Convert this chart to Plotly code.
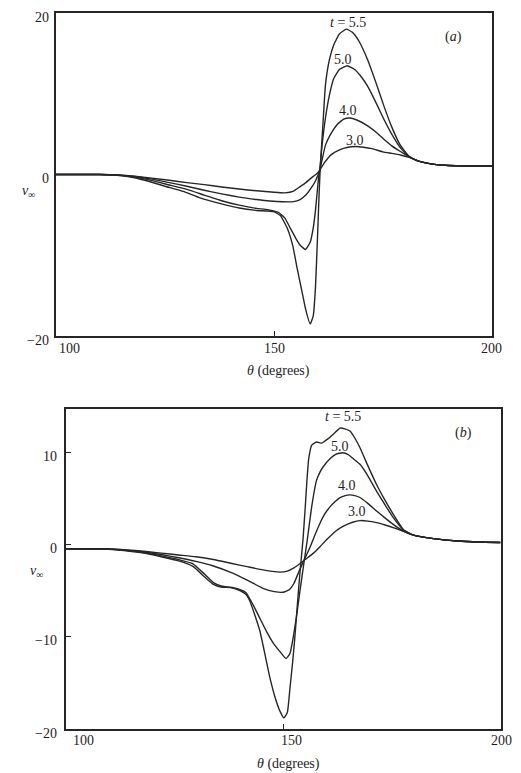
import plotly.graph_objects as go

# ---------------- data: panel (a) ----------------
A30_x = [100, 110, 114, 118, 122, 126, 130, 134, 138, 142, 146, 150, 152.5, 154.5, 156, 157.3, 158.5, 159.8, 160.5, 161.5,
         163, 165, 167, 168.7, 170.5, 172.5, 175, 177, 179, 181, 183, 186, 190, 195, 200]
A30_y = [0, 0, -0.05, -0.2, -0.45, -0.72, -1.0, -1.25, -1.55, -1.8, -2.02, -2.2, -2.27, -2.05, -1.5, -1.0, -0.45, 0.1, 0.55, 1.4,
         2.4, 3.05, 3.38, 3.46, 3.38, 3.2, 2.8, 2.62, 2.42, 2.12, 1.68, 1.32, 1.12, 1.06, 1.05]

A40_x = [100, 110, 114, 118, 122, 126, 130, 134, 138, 142, 146, 149, 152, 154.5, 156, 157.3, 158.5, 159.5, 160.5, 161.8,
         163, 164.5, 166, 167.4, 169, 171.4, 173.5, 175.2, 177, 179, 181, 183, 186, 190, 195, 200]
A40_y = [0, 0, -0.07, -0.25, -0.58, -1.0, -1.45, -1.95, -2.4, -2.8, -3.1, -3.28, -3.38, -3.36, -3.1, -2.55, -1.7, -0.8, 0.55, 3.64,
         5.0, 6.2, 6.85, 7.0, 6.75, 6.05, 5.2, 4.36, 3.55, 2.85, 2.2, 1.68, 1.32, 1.12, 1.06, 1.05]

A50_x = [100, 110, 114, 118, 122, 126, 130, 134, 138, 142, 146, 148.5, 151, 152.5, 153.7, 155, 156, 157.2, 158.3, 159,
         159.5, 160.2, 160.5, 161, 161.8, 162.7, 163.7, 165, 166.8, 168.5, 170, 171.4, 173.3, 175.2, 177, 179, 181, 183, 186, 190,
         195, 200]
A50_y = [0, 0, -0.08, -0.32, -0.75, -1.3, -1.85, -2.55, -3.25, -3.8, -4.2, -4.35, -4.7, -5.4, -6.6, -7.9, -8.75, -9.28, -8.4, -6.6,
         -4.5, -0.5, 0.55, 3.5, 7.0, 9.8, 11.9, 13.0, 13.46, 13.0, 12.1, 11.0, 9.0, 6.85, 5.0, 3.3, 2.2, 1.68, 1.32, 1.12,
         1.06, 1.05]

A55_x = [100, 110, 114, 118, 121.6, 125, 129.2, 133, 138.4, 142, 146, 149.9, 151.5, 153, 154.3, 155.3, 156.3, 157.3, 158.3, 159,
         159.5, 160, 160.3, 160.6, 161.2, 161.8, 162.7, 163.7, 165, 166.6, 168, 169.5, 171.4, 173.3, 175.2, 177, 179, 181, 183, 186,
         190, 195, 200]
A55_y = [0, 0, -0.1, -0.4, -0.9, -1.45, -2.1, -2.9, -3.7, -4.15, -4.45, -4.6, -5.1, -6.6, -8.8, -11.6, -14.2, -16.8, -18.5, -17.5,
         -14.1, -7.5, -3.0, 0.76, 6.0, 11.1, 14.2, 16.05, 17.4, 18.0, 17.6, 16.5, 14.3, 11.5, 8.5, 5.9, 3.6, 2.25, 1.68, 1.32,
         1.12, 1.06, 1.05]

# ---------------- data: panel (b) ----------------
B30_x = [100, 110, 114, 118, 122, 126, 130, 134, 138, 142, 146, 149.3, 151, 152.5, 154, 155.5, 157, 158.5, 160, 162,
         164, 166, 167.7, 169.5, 171.5, 173.5, 175.5, 177.7, 180, 184.6, 190, 195, 200]
B30_y = [-0.43, -0.45, -0.55, -0.7, -0.9, -1.1, -1.3, -1.6, -2.0, -2.4, -2.78, -2.96, -2.85, -2.5, -2.0, -1.45, -0.9, -0.2, 0.54, 1.45,
         2.05, 2.45, 2.63, 2.58, 2.41, 2.15, 1.85, 1.46, 1.05, 0.67, 0.42, 0.3, 0.26]

B40_x = [100, 110, 114, 118, 122, 126, 130, 134, 138, 142, 145.4, 148, 150, 151.5, 152.5, 153.9, 155, 156.2, 157.2, 158.5,
         159.6, 160.8, 162, 163.1, 164.3, 165.4, 166.5, 167.7, 169.5, 171.5, 173.5, 175.4, 177.7, 180, 184.6, 190, 195, 200]
B40_y = [-0.43, -0.45, -0.58, -0.78, -1.05, -1.4, -1.8, -2.3, -3.0, -3.9, -4.72, -5.08, -5.15, -4.85, -4.2, -2.64, -1.5, -0.3, 0.9, 2.35,
         3.35, 4.12, 4.7, 5.12, 5.35, 5.42, 5.35, 5.14, 4.5, 3.67, 2.9, 2.2, 1.5, 1.05, 0.67, 0.42, 0.3, 0.26]

B50_x = [100, 110, 114, 118, 122, 126, 129.3, 132, 134, 136, 138, 140, 141.5, 143.1, 144.6, 146.2, 147.8, 149.3, 150.7, 151.6,
         152.3, 153.1, 153.9, 154.8, 155.6, 156.6, 157.7, 158.5, 159.2, 160.8, 162.2, 163.7, 165, 166.3, 167.7, 169.5, 171.5, 173.5,
         175.4, 177.7, 180, 184.6, 190, 195, 200]
B50_y = [-0.43, -0.47, -0.62, -0.85, -1.2, -1.6, -2.06, -3.2, -4.1, -4.5, -4.6, -4.85, -5.2, -6.5, -7.9, -9.4, -10.7, -11.6, -12.35, -11.8,
         -10.18, -7.8, -5.0, -2.0, 0.6, 4.16, 7.0, 7.9, 8.45, 9.35, 9.85, 10.0, 9.8, 9.3, 8.74, 7.5, 5.83, 4.3,
         2.92, 1.6, 1.05, 0.67, 0.42, 0.3, 0.26]

B55_x = [100, 110, 114, 118, 122, 126, 129.3, 132, 134, 136, 138, 140.1, 141.5, 142.4, 143.5, 144.7, 145.9, 147.0, 148.2, 149.3,
         150.2, 151.0, 151.6, 152.2, 152.7, 153.3, 153.9, 154.6, 155.1, 155.5, 155.9, 156.6, 157.7, 158.9, 159.6, 160.8, 162, 163.1,
         164.2, 165.4, 166.5, 167.7, 169.5, 171.5, 173.5, 175.4, 177.7, 180, 184.6, 190, 195, 200]
B55_y = [-0.43, -0.48, -0.65, -0.9, -1.3, -1.75, -2.35, -3.5, -4.3, -4.6, -4.65, -4.97, -5.4, -6.13, -7.6, -9.39, -12.0, -14.45, -16.6, -18.06,
         -18.79, -18.2, -15.57, -12.8, -10.18, -6.5, -3.0, 0.59, 4.0, 7.0, 9.3, 10.82, 11.16, 11.04, 11.26, 11.68, 12.2, 12.67,
         12.6, 12.36, 11.6, 10.54, 8.6, 6.55, 4.8, 3.28, 1.64, 1.05, 0.67, 0.42, 0.3, 0.26]

# curve labels: (text, theta, value)
A_LABELS = [("<i>t</i> = 5.5", 167.0, 18.8), ("5.0", 165.8, 14.3), ("4.0", 167.0, 7.9), ("3.0", 168.6, 4.15)]
B_LABELS = [("<i>t</i> = 5.5", 163.8, 13.9), ("5.0", 163.1, 10.7), ("4.0", 164.7, 6.4), ("3.0", 167.0, 3.6)]

A_XTICKS = [100, 150, 200]
A_YTICKS = [-20, 0, 20]
A_YTICK_TEXT = ["\u221220", "0", "20"]
B_XTICKS = [100, 150, 200]
B_YTICKS = [-20, -10, 0, 10]
B_YTICK_TEXT = ["\u221220", "\u221210", "0", "10"]

W, H = 521, 773
INK = "#262626"
TXT = "#1e1e1e"
FONT = "Liberation Serif, Times New Roman, serif"
FS = 14

fig = go.Figure()
for xs, ys in [(A30_x, A30_y), (A40_x, A40_y), (A50_x, A50_y), (A55_x, A55_y)]:
    fig.add_trace(go.Scatter(x=xs, y=ys, mode="lines", xaxis="x", yaxis="y",
                             line=dict(color=INK, width=1.4, shape="spline", smoothing=0.4),
                             showlegend=False, hoverinfo="skip"))
for xs, ys in [(B30_x, B30_y), (B40_x, B40_y), (B50_x, B50_y), (B55_x, B55_y)]:
    fig.add_trace(go.Scatter(x=xs, y=ys, mode="lines", xaxis="x2", yaxis="y2",
                             line=dict(color=INK, width=1.4, shape="spline", smoothing=0.4),
                             showlegend=False, hoverinfo="skip"))

axis_common = dict(showline=True, mirror=True, linecolor=INK, linewidth=1.5, showgrid=False,
                   zeroline=False, showticklabels=False, tickcolor=INK, tickwidth=1.2)

fig.update_layout(
    width=W, height=H, margin=dict(l=0, r=0, t=0, b=0),
    paper_bgcolor="white", plot_bgcolor="white",
    font=dict(family=FONT, size=FS, color=TXT),
    xaxis=dict(domain=[56 / W, 492 / W], range=[100, 200], anchor="y",
               tickvals=[150], ticks="inside", ticklen=5, **axis_common),
    yaxis=dict(domain=[1 - 336 / H, 1 - 13 / H], range=[-20, 20], anchor="x",
               tickvals=A_YTICKS, ticks="", **axis_common),
    xaxis2=dict(domain=[65.5 / W, 500.5 / W], range=[100, 200], anchor="y2",
                tickvals=[150], ticks="inside", ticklen=5, **axis_common),
    yaxis2=dict(domain=[1 - 729 / H, 1 - 409 / H], range=[-20, 14.75], anchor="x2",
                tickvals=B_YTICKS, ticks="inside", ticklen=6, **axis_common),
)

tfont = dict(family=FONT, size=FS, color=TXT)
ann = []
# curve labels
for txt, xv, yv in A_LABELS:
    ann.append(dict(text=txt, x=xv, y=yv, xref="x", yref="y", showarrow=False, font=tfont))
for txt, xv, yv in B_LABELS:
    ann.append(dict(text=txt, x=xv, y=yv, xref="x2", yref="y2", showarrow=False, font=tfont))
# panel letters
ann.append(dict(text="(<i>a</i>)", x=191.1, y=17.0, xref="x", yref="y", showarrow=False, font=tfont))
ann.append(dict(text="(<i>b</i>)", x=191.4, y=12.1, xref="x2", yref="y2", showarrow=False, font=tfont))

# y tick labels
for v, t in zip(A_YTICKS, A_YTICK_TEXT):
    ann.append(dict(text=t, x=50 / W, xref="paper", xanchor="right", y=v, yref="y", yanchor="middle",
                    yshift=-4, showarrow=False, font=tfont, borderpad=0))
for v, t in zip(B_YTICKS, B_YTICK_TEXT):
    ann.append(dict(text=t, x=58 / W, xref="paper", xanchor="right", y=v, yref="y2", yanchor="middle",
                    yshift=-4, showarrow=False, font=tfont, borderpad=0))

# x tick labels
a_anchor = {100: ("left", 2), 150: ("center", 0), 200: ("center", -1)}
b_anchor = {100: ("left", 6), 150: ("center", 8), 200: ("center", 1)}
for v in A_XTICKS:
    xa, xs = a_anchor[v]
    ann.append(dict(text=str(v), x=v, xref="x", xanchor=xa, xshift=xs, y=1 - 336 / H, yref="paper",
                    yanchor="top", yshift=-4, showarrow=False, font=tfont, borderpad=0))
for v in B_XTICKS:
    xa, xs = b_anchor[v]
    ann.append(dict(text=str(v), x=v, xref="x2", xanchor=xa, xshift=xs, y=1 - 729 / H, yref="paper",
                    yanchor="top", yshift=-3, showarrow=False, font=tfont, borderpad=0))

# axis titles
ann.append(dict(text="<i>θ</i> (degrees)", x=0.5336, y=1 - 371 / H, xref="paper", yref="paper",
                showarrow=False, font=tfont, borderpad=0))
ann.append(dict(text="<i>θ</i> (degrees)", x=0.5528, y=0, yanchor="bottom", xref="paper", yref="paper",
                showarrow=False, font=tfont, borderpad=0))
ann.append(dict(text="<i>v</i><sub>∞</sub>", x=20 / W, y=1 - 181 / H, xref="paper", yref="paper",
                showarrow=False, font=tfont))
ann.append(dict(text="<i>v</i><sub>∞</sub>", x=28 / W, y=1 - 582 / H, xref="paper", yref="paper",
                showarrow=False, font=tfont))

fig.update_layout(annotations=ann)
fig.write_html("out.html")
